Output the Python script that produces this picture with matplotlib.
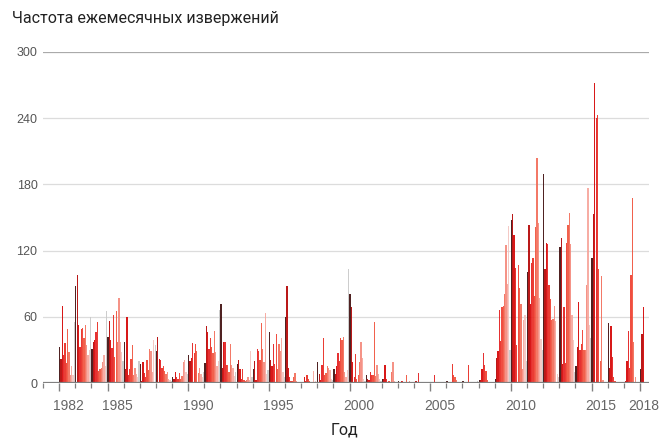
import matplotlib
matplotlib.use("Agg")
import matplotlib.pyplot as plt
import matplotlib.transforms as mtransforms
import numpy as np

# Monthly eruption counts, January 1982 .. March 2018
eruptions_1982_1989 = [
    33, 22, 70, 25, 36, 18, 49, 28, 7, 15, 7, 55,
    88, 98, 53, 33, 49, 50, 41, 53, 34, 25, 30, 60,
    31, 37, 39, 46, 55, 11, 13, 14, 19, 25, 15, 65,
    42, 56, 39, 32, 62, 24, 65, 37, 77, 37, 28, 20,
    37, 13, 60, 7, 13, 22, 34, 7, 14, 8, 5, 20,
    17, 2, 19, 9, 5, 21, 12, 31, 29, 10, 39, 34,
    29, 42, 22, 21, 14, 15, 11, 8, 10, 4, 3, 2,
    5, 4, 10, 5, 4, 9, 4, 6, 19, 21, 10, 8,
]
eruptions_1990_1999 = [
    25, 20, 23, 36, 27, 35, 29, 9, 14, 8, 5, 10,
    18, 52, 46, 31, 41, 33, 27, 47, 28, 15, 20, 66,
    72, 14, 37, 37, 16, 16, 10, 35, 16, 14, 6, 10,
    17, 21, 13, 4, 13, 3, 2, 3, 5, 3, 29, 5,
    13, 20, 3, 31, 29, 21, 54, 31, 19, 63, 8, 12,
    46, 21, 15, 35, 17, 44, 13, 35, 29, 41, 10, 5,
    60, 88, 14, 5, 2, 2, 5, 9, 2, 1, 1, 0,
    1, 0, 5, 2, 7, 4, 2, 1, 1, 11, 2, 1,
    19, 8, 3, 16, 41, 7, 9, 15, 14, 12, 4, 3,
    13, 8, 15, 27, 20, 41, 39, 42, 10, 5, 12, 103,
]
eruptions_2000_2009 = [
    81, 69, 19, 5, 26, 4, 7, 19, 37, 23, 4, 2,
    7, 4, 3, 10, 7, 7, 55, 6, 16, 8, 4, 2,
    4, 4, 16, 4, 1, 2, 1, 10, 19, 2, 1, 0,
    2, 1, 2, 2, 1, 1, 7, 1, 2, 1, 0, 1,
    1, 2, 1, 9, 0, 1, 0, 0, 1, 0, 0, 0,
    0, 1, 0, 7, 0, 1, 1, 0, 1, 1, 0, 1,
    2, 1, 0, 1, 17, 7, 5, 3, 1, 0, 0, 1,
    2, 1, 0, 0, 16, 0, 0, 1, 0, 1, 1, 2,
    3, 3, 13, 27, 16, 11, 3, 1, 1, 0, 0, 1,
    4, 23, 29, 66, 38, 69, 70, 81, 125, 90, 142, 30,
]
eruptions_2010_2018 = [
    148, 153, 134, 104, 34, 107, 86, 72, 13, 57, 62, 20,
    101, 143, 72, 109, 113, 79, 141, 204, 145, 77, 40, 30,
    189, 103, 127, 126, 89, 76, 57, 58, 70, 56, 8, 5,
    123, 131, 17, 69, 18, 127, 143, 154, 126, 62, 39, 10,
    15, 33, 73, 30, 35, 48, 30, 30, 89, 177, 53, 41,
    113, 153, 272, 240, 243, 103, 20, 97, 3, 0, 0, 0,
    54, 14, 52, 24, 5, 2, 0, 0, 0, 0, 0, 0,
    0, 2, 20, 47, 14, 98, 168, 37, 5, 0, 0, 0,
    13, 44, 69,
]
start_year = 1982
label_years = [1982, 1985, 1990, 1995, 2000, 2005, 2010, 2015, 2018]
y_ticks = [0, 60, 120, 180, 240, 300]
month_colors = ['#3d0a0a', '#b30000', '#d40000', '#e31a1c', '#e8281e', '#ef3b2c',
                '#f0503a', '#f26a56', '#f4877a', '#f7a49a', '#f3c4bf', '#c8c8c8']
title_text = "Частота ежемесячных извержений"
xlabel_text = "Год"

values = np.array(eruptions_1982_1989 + eruptions_1990_1999 +
                  eruptions_2000_2009 + eruptions_2010_2018, dtype=float)
idx = np.arange(len(values))
xpos = start_year + idx / 12.0 + 0.035
colors = [month_colors[i % 12] for i in idx]

plt.rcParams['font.family'] = ['Roboto', 'DejaVu Sans']

fig = plt.figure(figsize=(6.71, 4.40), dpi=100)
ax = fig.add_axes([43 / 671, 1 - 383 / 440, (649 - 43) / 671, (383 - 52) / 440])

for yv in y_ticks[1:]:
    ax.axhline(yv, color='#aaaaaa' if yv == 300 else '#dcdcdc', lw=0.9, zorder=0)

ax.bar(xpos, values, width=0.08, color=colors, alpha=0.9, linewidth=0, zorder=2)

ax.set_xlim(1981.74, 2018.56)
ax.set_ylim(0, 300)
ax.axhline(0, color='#808080', lw=1.6, zorder=3)

for s in ax.spines.values():
    s.set_visible(False)

ax.set_yticks(y_ticks)
ax.set_yticklabels([str(v) for v in y_ticks], fontsize=9, color='#555555',
                   family=['Liberation Sans', 'DejaVu Sans'])
ax.tick_params(axis='y', length=0, pad=4)

ax.set_xticks(label_years)
ax.set_xticklabels([])
ax.set_xticks(list(range(1981, 2019)), minor=True)
ax.tick_params(axis='x', which='major', length=6, width=1.0, color='#808080', direction='out')
ax.tick_params(axis='x', which='minor', length=3.5, width=0.9, color='#808080', direction='out')

trans = mtransforms.blended_transform_factory(ax.transData, ax.transAxes)
for yr in label_years:
    off = 0.6 if yr != 2018 else 0.22
    ax.text(yr + off, -0.068, str(yr), transform=trans, ha='center', va='center',
            fontsize=10, color='#666666', family=['Liberation Sans', 'DejaVu Sans'])

fig.text(12 / 671, 1 - 19 / 440, title_text, ha='left', va='center', fontsize=11.5, color='#222222')
fig.text(345 / 671, 1 - 430 / 440, xlabel_text, ha='center', va='center', fontsize=11.5, color='#222222')

fig.savefig('out.png', dpi=100)
